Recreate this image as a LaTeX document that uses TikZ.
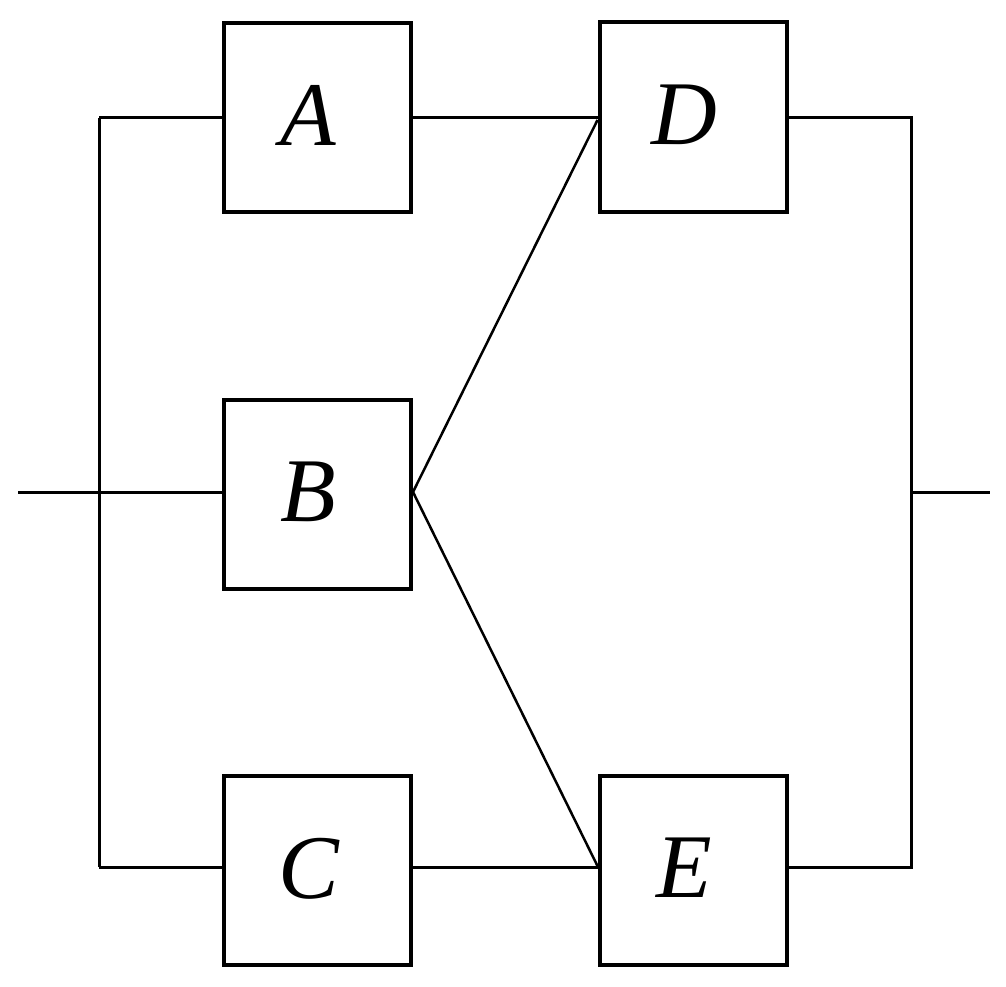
\documentclass[tikz,border=0pt]{standalone}
\usepackage{fontspec}
\setmainfont{Liberation Serif}
\begin{document}
\begin{tikzpicture}[x=1pt,y=-1pt,
  blk/.style={draw, line width=4pt, minimum width=187pt, minimum height=189pt, inner sep=0pt, font=\fontsize{91}{91}\selectfont\itshape},
  wire/.style={line width=3pt}]
\useasboundingbox (0,0) rectangle (1006,987);
\node[blk] (A) at (317.5,117.5) {\raisebox{4pt}{\hspace*{-18pt}A}};
\node[blk] (D) at (693,117) {\raisebox{4pt}{\hspace*{-18pt}D}};
\node[blk] (B) at (317.5,494) {\raisebox{4pt}{\hspace*{-18pt}B}};
\node[blk] (C) at (317.5,870) {\raisebox{4pt}{\hspace*{-18pt}C}};
\node[blk] (E) at (693,870) {\raisebox{4pt}{\hspace*{-18pt}E}};
\coordinate (inL) at (18,492);
\coordinate (outR) at (990,492);
\coordinate (LT) at (99,118);
\coordinate (LB) at (99,867);
\coordinate (RT) at (911,118);
\coordinate (RB) at (911,867);
\coordinate (RM) at (911,492);
\draw[wire] (inL) -- (B.west |- inL);
\draw[wire] (LT) -- (LB);
\draw[wire] (LT) -- (A.west |- LT);
\draw[wire] (LB) -- (C.west |- LB);
\draw[wire] (A.east |- LT) -- (D.west |- LT);
\draw[wire] (C.east |- LB) -- (E.west |- LB);
\draw[wire] (D.east |- RT) -- (RT) -- (RB) -- (E.east |- RB);
\draw[wire] (RM) -- (outR);
\draw[line width=2.5pt] (D.west |- 0,120) -- (B.east |- 0,492) -- (E.west |- 0,866);
\end{tikzpicture}
\end{document}
